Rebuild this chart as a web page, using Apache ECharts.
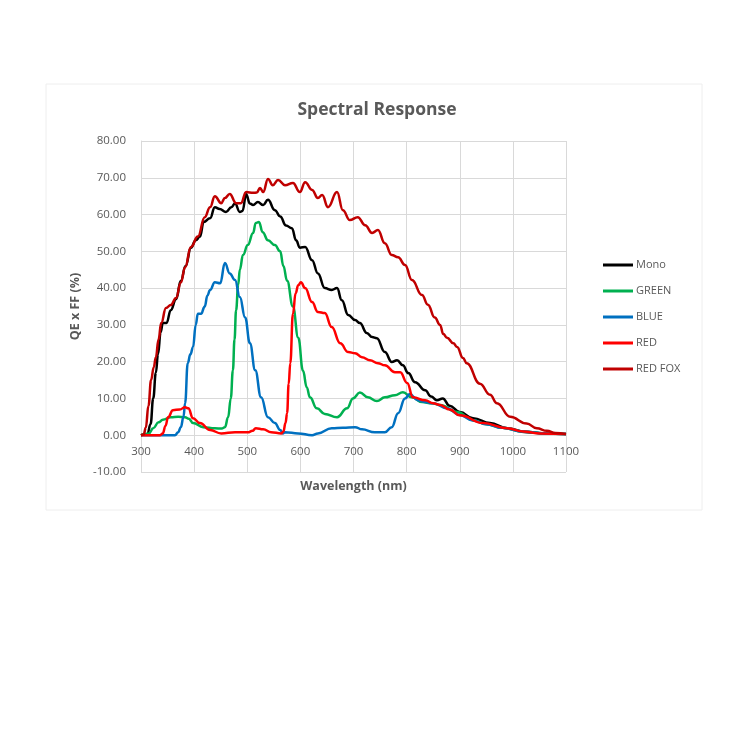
<!DOCTYPE html>
<html>
<head>
<meta charset="utf-8">
<script src="https://cdn.jsdelivr.net/npm/echarts@6/dist/echarts.min.js"></script>
<style>
html,body{margin:0;padding:0;background:#fff;}
#chart{width:750px;height:750px;}
</style>
</head>
<body>
<div id="chart"></div>
<script>
// ---- data (wavelength nm, QE x FF %) ----
const monoNm = [300,312,318,323,328,332,337,341,348,356,366,375,384,394,403,411,418,430,439,448,460,470,477,486,491,498,505,511,520,530,539,552,562,573,584,592,599,609,622,633,646,659,669,678,690,703,712,725,735,744,759,772,782,793,803,816,835,846,857,868,881,900,925,957,989,1026,1064,1100];
const monoQE = [0,0.3,3,10,17,22,28,30.5,30.5,34,37,42,46,51,53,54,58,59,62,61.5,60.7,62,63,60.7,61,65.5,63,62.6,63.4,62.6,64,61.2,59.5,57,56.3,53,51,51.2,47.6,44,40,39.5,40,36.7,32.7,31.3,30.5,27.8,26.7,26.4,22.6,19.9,20.4,19,16.9,14.4,12.2,10.5,9.5,10,8,6.3,4.6,3.3,1.9,0.8,0.5,0.3];

const greenNm = [300,315,323,333,341,356,370,383,390,398,417,439,452,458,464,469,473,476,479,483,486,492,501,511,516,522,529,539,552,562,568,575,586,596,605,612,618,631,646,669,688,699,712,727,744,759,778,793,810,829,848,863,895,925,950,980,1020,1060,1100];
const greenQE = [0,0.5,1.9,3.5,4.2,4.9,5,4.9,4.5,3.3,2.2,1.9,1.8,2.2,4.9,10,17.7,26,34,41,45,49,51.7,55,57.7,58,55.2,53,51.7,50,46,42,35,26.5,17.5,13,10.3,7.3,5.8,4.9,7.3,10,11.6,10.3,9.3,10.3,10.9,11.7,10.3,9,8.7,8.2,6.3,4.1,3,2,1,0.5,0.3];

const blueNm = [300,364,370,375,380,383,388,393,398,403,407,413,420,425,430,439,449,458,467,477,486,496,505,515,526,539,552,562,567,571,596,622,633,659,680,703,716,740,759,772,784,797,806,821,835,850,876,900,925,950,980,1020,1060,1100];
const blueQE = [0,0,0.8,2.2,5,8.7,19.6,22,24,30,33,33,35,38,39.5,41.6,41.3,46.8,44,42.2,37.6,32,25,17.7,10.3,4.9,3.3,1.4,0.5,0.8,0.5,0,0.5,1.9,2,2.2,1.6,0.8,0.8,2.2,6,10,11.2,9.5,9,8.7,7.3,5.5,4,3,2,1,0.5,0.3];

const redNm = [300,336,341,346,351,360,373,383,389,398,411,430,451,477,501,510,516,530,545,564,568,572,575,578,581,586,591,596,601,609,622,633,646,659,675,690,703,716,731,746,759,778,788,801,812,835,850,863,881,900,944,989,1020,1051,1100];
const redQE = [0,0,0.5,2.5,4.9,6.8,7,7.6,7.3,4.6,3.3,1.4,0.5,0.8,0.8,1.2,1.9,1.6,0.8,0.5,1,3.3,6,14,19.6,33,38.6,40.8,41.6,40,36.2,33.5,33.2,29.4,25,22.6,22.3,21.2,20.4,19.6,19,17.1,17.1,14.2,10.3,9.5,8.7,8.2,7,5.4,3.3,1.9,1,0.5,0.3];

const redFoxNm = [300,305,309,314,319,324,328,333,338,347,356,366,375,383,394,407,420,430,439,451,458,467,479,488,498,511,518,524,530,539,548,558,571,586,599,609,622,633,641,652,669,680,693,708,722,735,746,759,772,784,797,810,829,840,853,863,869,876,888,895,906,913,938,957,970,995,1026,1045,1064,1080,1100];
const redFoxQE = [0,0.2,2,8,15,18.5,21.2,26,30.5,34.6,35.4,37.3,41.5,45.7,51.2,54,59.3,62,65,63.1,64.5,65.6,63.1,63.1,66.1,65.9,66,67.2,66.1,69.7,68,69.4,68,68.6,66.1,68.8,66.7,64.5,65.3,62,66.1,61.2,58.5,59.3,57.1,55,55.8,52.2,49,48.4,46.3,42.2,38.1,35.5,32,30,27.5,26.5,25,24,21,19.6,14,11,8.7,5,3.2,1.9,1.2,0.6,0.3];

const seriesNames = ['Mono','GREEN','BLUE','RED','RED FOX'];
const seriesColors = ['#000000','#00B050','#0070C0','#FF0000','#C00000'];
const xTicks = {min:300, max:1100, step:100};
const yTicks = {min:-10, max:80, step:10};

function pairs(xs, ys){ return xs.map((x,i)=>[x, ys[i]]); }
const allData = [pairs(monoNm,monoQE), pairs(greenNm,greenQE), pairs(blueNm,blueQE), pairs(redNm,redQE), pairs(redFoxNm,redFoxQE)];

const chart = echarts.init(document.getElementById('chart'));
const txt = '#595959';
const gridCol = '#d9d9d9';
// plot area geometry
const gTop = 141, gBottom = 278, gHeight = 750 - gTop - gBottom;
// distance of the zero line above the grid bottom
const zeroOffset = gHeight * (0 - yTicks.min) / (yTicks.max - yTicks.min);
chart.setOption({
  animation:false,
  backgroundColor:'#ffffff',
  graphic:[{type:'rect', shape:{x:46,y:84,width:656,height:426}, style:{fill:'none', stroke:'#eeeeee', lineWidth:1}, z:-1}],
  title:{text:'Spectral Response', left:372, top:96, textAlign:'center',
    textStyle:{fontFamily:'Open Sans', fontWeight:'bold', fontSize:17.5, color:txt}},
  legend:{orient:'vertical', left:603, top:258, padding:0, itemWidth:30, itemHeight:3, itemGap:12, icon:'rect',
    textStyle:{fontFamily:'Open Sans', fontSize:11, color:txt, lineHeight:14, padding:[0,0,0,-2]}, data:seriesNames},
  grid:{left:141, right:184, top:gTop, bottom:gBottom, containLabel:false},
  xAxis:{type:'value', min:xTicks.min, max:xTicks.max, interval:xTicks.step,
    position:'bottom', offset:-zeroOffset,
    name:'Wavelength (nm)', nameLocation:'middle', nameGap:45,
    nameTextStyle:{fontFamily:'Open Sans', fontWeight:'bold', fontSize:12.5, color:txt},
    axisLine:{show:true, onZero:false, lineStyle:{color:gridCol, width:1}},
    axisTick:{show:false},
    axisLabel:{fontFamily:'Open Sans', fontSize:11.5, color:txt, margin:10, formatter:v=>String(v)},
    splitLine:{show:true, lineStyle:{color:gridCol, width:1}}},
  yAxis:{type:'value', min:yTicks.min, max:yTicks.max, interval:yTicks.step,
    name:'QE x FF (%)', nameLocation:'middle', nameGap:57, nameRotate:90,
    nameTextStyle:{fontFamily:'Open Sans', fontWeight:'bold', fontSize:12.5, color:txt},
    axisLine:{show:true, lineStyle:{color:gridCol, width:1}},
    axisTick:{show:false},
    axisLabel:{fontFamily:'Open Sans', fontSize:11.5, color:txt, margin:15, formatter:v=>v.toFixed(2)},
    splitLine:{show:true, lineStyle:{color:gridCol, width:1}}},
  series: seriesNames.map((n,i)=>({
    name:n, type:'line', data:allData[i], showSymbol:false, symbol:'none',
    smooth:0.45, smoothMonotone:'x',
    lineStyle:{color:seriesColors[i], width:2.5}, itemStyle:{color:seriesColors[i]}
  }))
});
</script>
</body>
</html>
